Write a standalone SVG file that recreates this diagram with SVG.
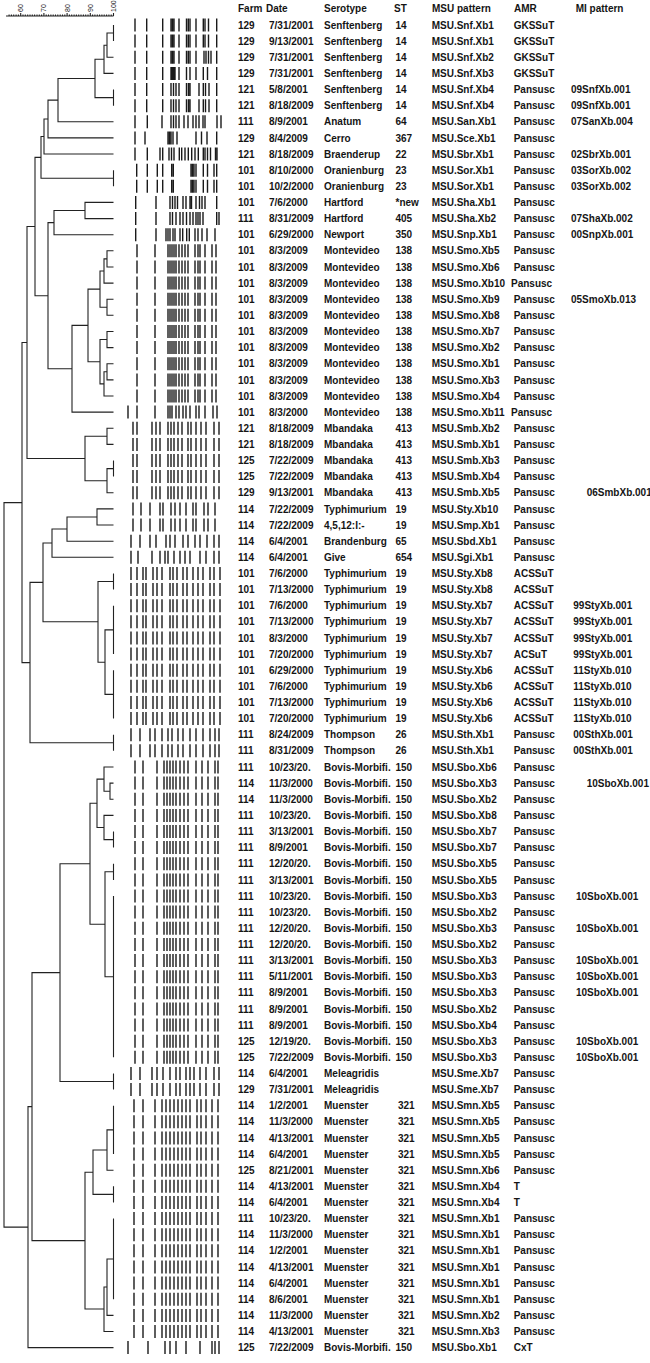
<svg xmlns="http://www.w3.org/2000/svg" xmlns:xlink="http://www.w3.org/1999/xlink" width="650" height="1363" viewBox="0 0 650 1363">
<style>
text{font-family:"Liberation Sans",Arial,sans-serif;font-size:10px;font-weight:bold;fill:#151515}
.sc{font-size:7px;font-weight:normal}
.tree{fill:none;stroke:#222;stroke-width:1.1}
.band{fill:none;stroke:#1a1a1a;stroke-width:1.4}
</style>
<defs>
<path id="g1" class="band" d="M135-6.5v13M146.7-6.5v13M162.7-6.5v13M171-6.5v13M172.5-6.5v13M174-6.5v13M179-6.5v13M186.5-6.5v13M188.3-6.5v13M190-6.5v13M196-6.5v13M203.3-6.5v13M205-6.5v13M208.5-6.5v13M216.7-6.5v13"/>
<path id="g3" class="band" d="M135-6.5v13M146.7-6.5v13M162.7-6.5v13M171-6.5v13M172.5-6.5v13M174-6.5v13M179-6.5v13M186.5-6.5v13M188.3-6.5v13M190-6.5v13M196-6.5v13M204-6.5v13M206-6.5v13M208.5-6.5v13M211-6.5v13M216.7-6.5v13"/>
<path id="g4" class="band" d="M135-6.5v13M146.7-6.5v13M162.7-6.5v13M171-6.5v13M172.3-6.5v13M173.6-6.5v13M175-6.5v13M179-6.5v13M186.5-6.5v13M190-6.5v13M196-6.5v13M203.3-6.5v13M207.5-6.5v13M216.7-6.5v13"/>
<path id="g5" class="band" d="M135-6.5v13M146.7-6.5v13M162.7-6.5v13M171-6.5v13M173.5-6.5v13M176-6.5v13M179-6.5v13M186.5-6.5v13M188.5-6.5v13M190-6.5v13M199-6.5v13M203.3-6.5v13M205.5-6.5v13M209-6.5v13M216.7-6.5v13"/>
<path id="g7" class="band" d="M135-6.5v13M147.3-6.5v13M162-6.5v13M171-6.5v13M173.5-6.5v13M176-6.5v13M179-6.5v13M184-6.5v13M188-6.5v13M193-6.5v13M196-6.5v13M199-6.5v13M203-6.5v13M205-6.5v13M217-6.5v13M221-6.5v13"/>
<path id="g8" class="band" d="M135-6.5v13M145-6.5v13M168-6.5v13M169.5-6.5v13M171-6.5v13M173-6.5v13M177-6.5v13M196-6.5v13M201.5-6.5v13M207-6.5v13M216.7-6.5v13"/>
<path id="g9" class="band" d="M135-6.5v13M147.3-6.5v13M160-6.5v13M162.7-6.5v13M169-6.5v13M171.5-6.5v13M174-6.5v13M179.3-6.5v13M181.7-6.5v13M185-6.5v13M188.3-6.5v13M191.7-6.5v13M195-6.5v13M198.3-6.5v13M203.3-6.5v13M205-6.5v13M207.5-6.5v13M210.5-6.5v13M215.5-6.5v13M217-6.5v13"/>
<path id="g10" class="band" d="M136.7-6.5v13M147.3-6.5v13M157.3-6.5v13M162.7-6.5v13M171.7-6.5v13M173.3-6.5v13M191-6.5v13M192.5-6.5v13M194-6.5v13M196-6.5v13M203.3-6.5v13M207.5-6.5v13M214-6.5v13M216.7-6.5v13"/>
<path id="g12" class="band" d="M135.7-6.5v13M156-6.5v13M170-6.5v13M172.5-6.5v13M175-6.5v13M177.5-6.5v13M183-6.5v13M186-6.5v13M190-6.5v13M191.5-6.5v13M196-6.5v13M199.5-6.5v13M202-6.5v13M205-6.5v13M216.7-6.5v13"/>
<path id="g13" class="band" d="M135.7-6.5v13M156-6.5v13M170-6.5v13M172.5-6.5v13M176-6.5v13M180-6.5v13M183-6.5v13M186.5-6.5v13M190-6.5v13M193-6.5v13M196-6.5v13M198-6.5v13M200-6.5v13M203-6.5v13M216.7-6.5v13M219-6.5v13"/>
<path id="g14" class="band" d="M135.7-6.5v13M156-6.5v13M166-6.5v13M168-6.5v13M170-6.5v13M173-6.5v13M175-6.5v13M180-6.5v13M182.7-6.5v13M186.7-6.5v13M189.3-6.5v13M195-6.5v13M198-6.5v13M202-6.5v13M207-6.5v13M215-6.5v13"/>
<path id="gmo" class="band" d="M137-6.5v13M155-6.5v13M168-6.5v13M170-6.5v13M172-6.5v13M174-6.5v13M176-6.5v13M179-6.5v13M182-6.5v13M185-6.5v13M188-6.5v13M195-6.5v13M198-6.5v13M200-6.5v13M205-6.5v13M212-6.5v13M216-6.5v13"/>
<path id="g25" class="band" d="M128-6.5v13M137-6.5v13M155-6.5v13M168-6.5v13M170-6.5v13M172-6.5v13M176-6.5v13M179-6.5v13M183-6.5v13M186-6.5v13M190-6.5v13M196-6.5v13M199-6.5v13M205-6.5v13M213-6.5v13M217-6.5v13"/>
<path id="gmb" class="band" d="M133-6.5v13M137-6.5v13M152-6.5v13M156-6.5v13M160-6.5v13M168-6.5v13M171-6.5v13M174-6.5v13M178-6.5v13M182-6.5v13M188-6.5v13M191-6.5v13M196-6.5v13M201-6.5v13M206-6.5v13M214-6.5v13M219-6.5v13"/>
<path id="g31" class="band" d="M133-6.5v13M141-6.5v13M150-6.5v13M160-6.5v13M163-6.5v13M171-6.5v13M175-6.5v13M180-6.5v13M186-6.5v13M193-6.5v13M196-6.5v13M204-6.5v13M208-6.5v13M215-6.5v13"/>
<path id="g33" class="band" d="M131-6.5v13M140-6.5v13M150-6.5v13M156-6.5v13M166-6.5v13M170-6.5v13M175-6.5v13M183-6.5v13M188-6.5v13M195-6.5v13M200-6.5v13M207-6.5v13M214-6.5v13M219-6.5v13"/>
<path id="g34" class="band" d="M131-6.5v13M138-6.5v13M152-6.5v13M160-6.5v13M165-6.5v13M168-6.5v13M174-6.5v13M180-6.5v13M185-6.5v13M190-6.5v13M200-6.5v13M206-6.5v13M214-6.5v13M219-6.5v13"/>
<path id="gty" class="band" d="M131-6.5v13M137-6.5v13M143-6.5v13M146-6.5v13M153-6.5v13M157-6.5v13M162-6.5v13M170-6.5v13M173-6.5v13M177-6.5v13M183-6.5v13M187-6.5v13M193-6.5v13M198-6.5v13M203-6.5v13M210-6.5v13M214-6.5v13M220-6.5v13"/>
<path id="gth" class="band" d="M131-6.5v13M140-6.5v13M150-6.5v13M155-6.5v13M162-6.5v13M168-6.5v13M172-6.5v13M178-6.5v13M183-6.5v13M190-6.5v13M196-6.5v13M203-6.5v13M210-6.5v13M215-6.5v13M219-6.5v13"/>
<path id="gbo" class="band" d="M135-6.5v13M143-6.5v13M157-6.5v13M164-6.5v13M167-6.5v13M170-6.5v13M173-6.5v13M176-6.5v13M180-6.5v13M184-6.5v13M188-6.5v13M196-6.5v13M202-6.5v13M208-6.5v13M215-6.5v13M218-6.5v13"/>
<path id="gme" class="band" d="M131-6.5v13M140-6.5v13M152-6.5v13M157-6.5v13M163-6.5v13M170-6.5v13M176-6.5v13M180-6.5v13M186-6.5v13M190-6.5v13M194-6.5v13M200-6.5v13M206-6.5v13M214-6.5v13M219-6.5v13"/>
<path id="gmu" class="band" d="M134-6.5v13M143-6.5v13M155-6.5v13M162-6.5v13M166-6.5v13M170-6.5v13M174-6.5v13M178-6.5v13M182-6.5v13M186-6.5v13M190-6.5v13M197-6.5v13M201-6.5v13M206-6.5v13M212-6.5v13M218-6.5v13"/>
<path id="g83" class="band" d="M128-6.5v13M148-6.5v13M165-6.5v13M170-6.5v13M176-6.5v13M186-6.5v13M200-6.5v13M212-6.5v13M215-6.5v13M219-6.5v13"/>
</defs>
<rect width="650" height="1363" fill="#fff"/>
<g id="scale">
<path class="tree" d="M6 16H113.5M20.7 16v-3M43.9 16v-3M67.1 16v-3M90.3 16v-3M113.5 16v-3M9.1 16v-1.5M11.4 16v-1.5M13.7 16v-1.5M16.1 16v-1.5M18.4 16v-1.5M23 16v-1.5M25.3 16v-1.5M27.7 16v-1.5M30 16v-1.5M32.3 16v-1.5M34.6 16v-1.5M37 16v-1.5M39.3 16v-1.5M41.6 16v-1.5M46.2 16v-1.5M48.5 16v-1.5M50.9 16v-1.5M53.2 16v-1.5M55.5 16v-1.5M57.8 16v-1.5M60.2 16v-1.5M62.5 16v-1.5M64.8 16v-1.5M69.4 16v-1.5M71.7 16v-1.5M74.1 16v-1.5M76.4 16v-1.5M78.7 16v-1.5M81 16v-1.5M83.4 16v-1.5M85.7 16v-1.5M88 16v-1.5M92.6 16v-1.5M94.9 16v-1.5M97.3 16v-1.5M99.6 16v-1.5M101.9 16v-1.5M104.2 16v-1.5M106.6 16v-1.5M108.9 16v-1.5M111.2 16v-1.5"/>
<text class="sc" transform="translate(23.2,12) rotate(-90)">60</text>
<text class="sc" transform="translate(46.4,12) rotate(-90)">70</text>
<text class="sc" transform="translate(69.6,12) rotate(-90)">80</text>
<text class="sc" transform="translate(92.8,12) rotate(-90)">90</text>
<text class="sc" transform="translate(116,12) rotate(-90)">100</text>
</g>
<g id="connectors" class="tree">
<path d="M113.5 25V41.1M113.5 33.05H107V57.3H113.5M107 45.2H104V73.4H113.5M113.5 89.5V105.7M104 59.3H95V97.6H113.5M95 78.5H58V121.8H113.5M58 100.1H48V137.9H113.5M48 119H44V154H113.5M113.5 170.2V186.3M44 136.5H41V178.2H113.5"/>
<path d="M113.5 202.4H85V218.6H113.5M85 210.5H54V234.7H113.5M113.5 250.8H107V267H113.5M107 258.9H104V283.1H113.5M113.5 299.2H107V315.3H113.5M104 271H100V307.3H107M113.5 331.5H107V347.6H113.5M113.5 363.7H107V379.9H113.5M107 371.8H104V396H113.5M107 339.5H100V383.9H104M100 289.1H88V361.7H100M88 325.4H72V412.1H113.5M54 222.6H48V368.8H72M41 157.4H35V295.7H48"/>
<path d="M113.5 428.3H107V444.4H113.5M113.5 460.5V476.6M113.5 468.6H107V492.8H113.5M107 436.3H85V480.7H107M35 226.5H27V458.5H85"/>
<path d="M113.5 508.9H97V525H113.5M97 517H67V541.2H113.5M67 529H52V557.3H113.5M113.5 573.4V589.6M113.5 605.7V654.1M113.5 670.2V718.6M113.5 629.9H105V694.4H113.5M113.5 581.5H98V662.2H105M52 543H43V621.8H98M113.5 734.7V750.8M43 582.4H30V742.8H113.5M27 342.5H22V662.6H30"/>
<path d="M113.5 783.1H110V799.2H113.5M113.5 767H104V791.2H110M113.5 831.5V847.6M113.5 815.4H104V839.6H113.5M104 779.1H97V827.5H104M113.5 863.7V879.9M113.5 896V1057.3M113.5 871.8H105V976.7H113.5M97 803.3H90V924.2H105M113.5 1073.4V1089.6M90 863.8H60V1081.5H113.5"/>
<path d="M113.5 1105.7V1154.1M113.5 1129.9H107V1170.2H113.5M113.5 1186.3V1202.5M107 1150H93V1194.4H113.5M113.5 1218.6V1299.2M113.5 1259H107V1315.4H113.5M107 1287H104V1331.5H113.5M93 1172.2H85V1309H104M60 972.6H32V1240.6H85M32 1106.6H28V1347.6H113.5M22 502.6H4V1227.1H28"/>
</g>
<g id="header"><text y="12"><tspan x="238">Farm</tspan><tspan x="266">Date</tspan><tspan x="324">Serotype</tspan><tspan x="394">ST</tspan><tspan x="432">MSU pattern</tspan><tspan x="514">AMR</tspan><tspan x="575.7">MI pattern</tspan></text></g>
<g id="row-1"><use href="#g1" y="25"/><text y="28.6"><tspan x="238">129</tspan><tspan x="269">7/31/2001</tspan><tspan x="324">Senftenberg</tspan><tspan x="395.5">14</tspan><tspan x="431.7">MSU.Snf.Xb1</tspan><tspan x="513.7">GKSSuT</tspan></text></g>
<g id="row-2"><use href="#g1" y="41.1"/><text y="44.7"><tspan x="238">129</tspan><tspan x="269">9/13/2001</tspan><tspan x="324">Senftenberg</tspan><tspan x="395.5">14</tspan><tspan x="431.7">MSU.Snf.Xb1</tspan><tspan x="513.7">GKSSuT</tspan></text></g>
<g id="row-3"><use href="#g3" y="57.3"/><text y="60.9"><tspan x="238">129</tspan><tspan x="269">7/31/2001</tspan><tspan x="324">Senftenberg</tspan><tspan x="395.5">14</tspan><tspan x="431.7">MSU.Snf.Xb2</tspan><tspan x="513.7">GKSSuT</tspan></text></g>
<g id="row-4"><use href="#g4" y="73.4"/><text y="77"><tspan x="238">129</tspan><tspan x="269">7/31/2001</tspan><tspan x="324">Senftenberg</tspan><tspan x="395.5">14</tspan><tspan x="431.7">MSU.Snf.Xb3</tspan><tspan x="513.7">GKSSuT</tspan></text></g>
<g id="row-5"><use href="#g5" y="89.5"/><text y="93.1"><tspan x="238">121</tspan><tspan x="269">5/8/2001</tspan><tspan x="324">Senftenberg</tspan><tspan x="395.5">14</tspan><tspan x="431.7">MSU.Snf.Xb4</tspan><tspan x="513.7">Pansusc</tspan><tspan x="571">09SnfXb.001</tspan></text></g>
<g id="row-6"><use href="#g5" y="105.7"/><text y="109.3"><tspan x="238">121</tspan><tspan x="269">8/18/2009</tspan><tspan x="324">Senftenberg</tspan><tspan x="395.5">14</tspan><tspan x="431.7">MSU.Snf.Xb4</tspan><tspan x="513.7">Pansusc</tspan><tspan x="571">09SnfXb.001</tspan></text></g>
<g id="row-7"><use href="#g7" y="121.8"/><text y="125.4"><tspan x="238">111</tspan><tspan x="269">8/9/2001</tspan><tspan x="324">Anatum</tspan><tspan x="395.5">64</tspan><tspan x="431.7">MSU.San.Xb1</tspan><tspan x="513.7">Pansusc</tspan><tspan x="571">07SanXb.004</tspan></text></g>
<g id="row-8"><use href="#g8" y="137.9"/><text y="141.5"><tspan x="238">129</tspan><tspan x="269">8/4/2009</tspan><tspan x="324">Cerro</tspan><tspan x="395.5">367</tspan><tspan x="431.7">MSU.Sce.Xb1</tspan><tspan x="513.7">Pansusc</tspan></text></g>
<g id="row-9"><use href="#g9" y="154"/><text y="157.6"><tspan x="238">121</tspan><tspan x="269">8/18/2009</tspan><tspan x="324">Braenderup</tspan><tspan x="395.5">22</tspan><tspan x="431.7">MSU.Sbr.Xb1</tspan><tspan x="513.7">Pansusc</tspan><tspan x="571">02SbrXb.001</tspan></text></g>
<g id="row-10"><use href="#g10" y="170.2"/><text y="173.8"><tspan x="238">101</tspan><tspan x="269">8/10/2000</tspan><tspan x="324">Oranienburg</tspan><tspan x="395.5">23</tspan><tspan x="431.7">MSU.Sor.Xb1</tspan><tspan x="513.7">Pansusc</tspan><tspan x="571">03SorXb.002</tspan></text></g>
<g id="row-11"><use href="#g10" y="186.3"/><text y="189.9"><tspan x="238">101</tspan><tspan x="269">10/2/2000</tspan><tspan x="324">Oranienburg</tspan><tspan x="395.5">23</tspan><tspan x="431.7">MSU.Sor.Xb1</tspan><tspan x="513.7">Pansusc</tspan><tspan x="571">03SorXb.002</tspan></text></g>
<g id="row-12"><use href="#g12" y="202.4"/><text y="206"><tspan x="238">101</tspan><tspan x="269">7/6/2000</tspan><tspan x="324">Hartford</tspan><tspan x="395.5">*new</tspan><tspan x="431.7">MSU.Sha.Xb1</tspan><tspan x="513.7">Pansusc</tspan></text></g>
<g id="row-13"><use href="#g13" y="218.6"/><text y="222.2"><tspan x="238">111</tspan><tspan x="269">8/31/2009</tspan><tspan x="324">Hartford</tspan><tspan x="395.5">405</tspan><tspan x="431.7">MSU.Sha.Xb2</tspan><tspan x="513.7">Pansusc</tspan><tspan x="571">07ShaXb.002</tspan></text></g>
<g id="row-14"><use href="#g14" y="234.7"/><text y="238.3"><tspan x="238">101</tspan><tspan x="269">6/29/2000</tspan><tspan x="324">Newport</tspan><tspan x="395.5">350</tspan><tspan x="431.7">MSU.Snp.Xb1</tspan><tspan x="513.7">Pansusc</tspan><tspan x="571">00SnpXb.001</tspan></text></g>
<g id="row-15"><use href="#gmo" y="250.8"/><text y="254.4"><tspan x="238">101</tspan><tspan x="269">8/3/2009</tspan><tspan x="324">Montevideo</tspan><tspan x="395.5">138</tspan><tspan x="431.7">MSU.Smo.Xb5</tspan><tspan x="513.7">Pansusc</tspan></text></g>
<g id="row-16"><use href="#gmo" y="267"/><text y="270.6"><tspan x="238">101</tspan><tspan x="269">8/3/2009</tspan><tspan x="324">Montevideo</tspan><tspan x="395.5">138</tspan><tspan x="431.7">MSU.Smo.Xb6</tspan><tspan x="513.7">Pansusc</tspan></text></g>
<g id="row-17"><use href="#gmo" y="283.1"/><text y="286.7"><tspan x="238">101</tspan><tspan x="269">8/3/2009</tspan><tspan x="324">Montevideo</tspan><tspan x="395.5">138</tspan><tspan x="431.7">MSU.Smo.Xb10</tspan><tspan x="511">Pansusc</tspan></text></g>
<g id="row-18"><use href="#gmo" y="299.2"/><text y="302.8"><tspan x="238">101</tspan><tspan x="269">8/3/2009</tspan><tspan x="324">Montevideo</tspan><tspan x="395.5">138</tspan><tspan x="431.7">MSU.Smo.Xb9</tspan><tspan x="513.7">Pansusc</tspan><tspan x="571">05SmoXb.013</tspan></text></g>
<g id="row-19"><use href="#gmo" y="315.3"/><text y="318.9"><tspan x="238">101</tspan><tspan x="269">8/3/2009</tspan><tspan x="324">Montevideo</tspan><tspan x="395.5">138</tspan><tspan x="431.7">MSU.Smo.Xb8</tspan><tspan x="513.7">Pansusc</tspan></text></g>
<g id="row-20"><use href="#gmo" y="331.5"/><text y="335.1"><tspan x="238">101</tspan><tspan x="269">8/3/2009</tspan><tspan x="324">Montevideo</tspan><tspan x="395.5">138</tspan><tspan x="431.7">MSU.Smo.Xb7</tspan><tspan x="513.7">Pansusc</tspan></text></g>
<g id="row-21"><use href="#gmo" y="347.6"/><text y="351.2"><tspan x="238">101</tspan><tspan x="269">8/3/2009</tspan><tspan x="324">Montevideo</tspan><tspan x="395.5">138</tspan><tspan x="431.7">MSU.Smo.Xb2</tspan><tspan x="513.7">Pansusc</tspan></text></g>
<g id="row-22"><use href="#gmo" y="363.7"/><text y="367.3"><tspan x="238">101</tspan><tspan x="269">8/3/2009</tspan><tspan x="324">Montevideo</tspan><tspan x="395.5">138</tspan><tspan x="431.7">MSU.Smo.Xb1</tspan><tspan x="513.7">Pansusc</tspan></text></g>
<g id="row-23"><use href="#gmo" y="379.9"/><text y="383.5"><tspan x="238">101</tspan><tspan x="269">8/3/2009</tspan><tspan x="324">Montevideo</tspan><tspan x="395.5">138</tspan><tspan x="431.7">MSU.Smo.Xb3</tspan><tspan x="513.7">Pansusc</tspan></text></g>
<g id="row-24"><use href="#gmo" y="396"/><text y="399.6"><tspan x="238">101</tspan><tspan x="269">8/3/2009</tspan><tspan x="324">Montevideo</tspan><tspan x="395.5">138</tspan><tspan x="431.7">MSU.Smo.Xb4</tspan><tspan x="513.7">Pansusc</tspan></text></g>
<g id="row-25"><use href="#g25" y="412.1"/><text y="415.7"><tspan x="238">101</tspan><tspan x="269">8/3/2000</tspan><tspan x="324">Montevideo</tspan><tspan x="395.5">138</tspan><tspan x="431.7">MSU.Smo.Xb11</tspan><tspan x="511">Pansusc</tspan></text></g>
<g id="row-26"><use href="#gmb" y="428.3"/><text y="431.9"><tspan x="238">121</tspan><tspan x="269">8/18/2009</tspan><tspan x="324">Mbandaka</tspan><tspan x="395.5">413</tspan><tspan x="431.7">MSU.Smb.Xb2</tspan><tspan x="513.7">Pansusc</tspan></text></g>
<g id="row-27"><use href="#gmb" y="444.4"/><text y="448"><tspan x="238">121</tspan><tspan x="269">8/18/2009</tspan><tspan x="324">Mbandaka</tspan><tspan x="395.5">413</tspan><tspan x="431.7">MSU.Smb.Xb1</tspan><tspan x="513.7">Pansusc</tspan></text></g>
<g id="row-28"><use href="#gmb" y="460.5"/><text y="464.1"><tspan x="238">125</tspan><tspan x="269">7/22/2009</tspan><tspan x="324">Mbandaka</tspan><tspan x="395.5">413</tspan><tspan x="431.7">MSU.Smb.Xb3</tspan><tspan x="513.7">Pansusc</tspan></text></g>
<g id="row-29"><use href="#gmb" y="476.6"/><text y="480.2"><tspan x="238">125</tspan><tspan x="269">7/22/2009</tspan><tspan x="324">Mbandaka</tspan><tspan x="395.5">413</tspan><tspan x="431.7">MSU.Smb.Xb4</tspan><tspan x="513.7">Pansusc</tspan></text></g>
<g id="row-30"><use href="#gmb" y="492.8"/><text y="496.4"><tspan x="238">129</tspan><tspan x="269">9/13/2001</tspan><tspan x="324">Mbandaka</tspan><tspan x="395.5">413</tspan><tspan x="431.7">MSU.Smb.Xb5</tspan><tspan x="513.7">Pansusc</tspan><tspan x="586.7">06SmbXb.001</tspan></text></g>
<g id="row-31"><use href="#g31" y="508.9"/><text y="512.5"><tspan x="238">114</tspan><tspan x="269">7/22/2009</tspan><tspan x="324">Typhimurium</tspan><tspan x="395.5">19</tspan><tspan x="431.7">MSU.Sty.Xb10</tspan><tspan x="513.7">Pansusc</tspan></text></g>
<g id="row-32"><use href="#g31" y="525"/><text y="528.6"><tspan x="238">114</tspan><tspan x="269">7/22/2009</tspan><tspan x="324">4,5,12:I:-</tspan><tspan x="395.5">19</tspan><tspan x="431.7">MSU.Smp.Xb1</tspan><tspan x="513.7">Pansusc</tspan></text></g>
<g id="row-33"><use href="#g33" y="541.2"/><text y="544.8"><tspan x="238">114</tspan><tspan x="269">6/4/2001</tspan><tspan x="324">Brandenburg</tspan><tspan x="395.5">65</tspan><tspan x="431.7">MSU.Sbd.Xb1</tspan><tspan x="513.7">Pansusc</tspan></text></g>
<g id="row-34"><use href="#g34" y="557.3"/><text y="560.9"><tspan x="238">114</tspan><tspan x="269">6/4/2001</tspan><tspan x="324">Give</tspan><tspan x="395.5">654</tspan><tspan x="431.7">MSU.Sgi.Xb1</tspan><tspan x="513.7">Pansusc</tspan></text></g>
<g id="row-35"><use href="#gty" y="573.4"/><text y="577"><tspan x="238">101</tspan><tspan x="269">7/6/2000</tspan><tspan x="324">Typhimurium</tspan><tspan x="395.5">19</tspan><tspan x="431.7">MSU.Sty.Xb8</tspan><tspan x="513.7">ACSSuT</tspan></text></g>
<g id="row-36"><use href="#gty" y="589.6"/><text y="593.2"><tspan x="238">101</tspan><tspan x="269">7/13/2000</tspan><tspan x="324">Typhimurium</tspan><tspan x="395.5">19</tspan><tspan x="431.7">MSU.Sty.Xb8</tspan><tspan x="513.7">ACSSuT</tspan></text></g>
<g id="row-37"><use href="#gty" y="605.7"/><text y="609.3"><tspan x="238">101</tspan><tspan x="269">7/6/2000</tspan><tspan x="324">Typhimurium</tspan><tspan x="395.5">19</tspan><tspan x="431.7">MSU.Sty.Xb7</tspan><tspan x="513.7">ACSSuT</tspan><tspan x="573.3">99StyXb.001</tspan></text></g>
<g id="row-38"><use href="#gty" y="621.8"/><text y="625.4"><tspan x="238">101</tspan><tspan x="269">7/13/2000</tspan><tspan x="324">Typhimurium</tspan><tspan x="395.5">19</tspan><tspan x="431.7">MSU.Sty.Xb7</tspan><tspan x="513.7">ACSSuT</tspan><tspan x="573.3">99StyXb.001</tspan></text></g>
<g id="row-39"><use href="#gty" y="637.9"/><text y="641.5"><tspan x="238">101</tspan><tspan x="269">8/3/2000</tspan><tspan x="324">Typhimurium</tspan><tspan x="395.5">19</tspan><tspan x="431.7">MSU.Sty.Xb7</tspan><tspan x="513.7">ACSSuT</tspan><tspan x="573.3">99StyXb.001</tspan></text></g>
<g id="row-40"><use href="#gty" y="654.1"/><text y="657.7"><tspan x="238">101</tspan><tspan x="269">7/20/2000</tspan><tspan x="324">Typhimurium</tspan><tspan x="395.5">19</tspan><tspan x="431.7">MSU.Sty.Xb7</tspan><tspan x="513.7">ACSuT</tspan><tspan x="573.3">99StyXb.001</tspan></text></g>
<g id="row-41"><use href="#gty" y="670.2"/><text y="673.8"><tspan x="238">101</tspan><tspan x="269">6/29/2000</tspan><tspan x="324">Typhimurium</tspan><tspan x="395.5">19</tspan><tspan x="431.7">MSU.Sty.Xb6</tspan><tspan x="513.7">ACSSuT</tspan><tspan x="573.3">11StyXb.010</tspan></text></g>
<g id="row-42"><use href="#gty" y="686.3"/><text y="689.9"><tspan x="238">101</tspan><tspan x="269">7/6/2000</tspan><tspan x="324">Typhimurium</tspan><tspan x="395.5">19</tspan><tspan x="431.7">MSU.Sty.Xb6</tspan><tspan x="513.7">ACSSuT</tspan><tspan x="573.3">11StyXb.010</tspan></text></g>
<g id="row-43"><use href="#gty" y="702.5"/><text y="706.1"><tspan x="238">101</tspan><tspan x="269">7/13/2000</tspan><tspan x="324">Typhimurium</tspan><tspan x="395.5">19</tspan><tspan x="431.7">MSU.Sty.Xb6</tspan><tspan x="513.7">ACSSuT</tspan><tspan x="573.3">11StyXb.010</tspan></text></g>
<g id="row-44"><use href="#gty" y="718.6"/><text y="722.2"><tspan x="238">101</tspan><tspan x="269">7/20/2000</tspan><tspan x="324">Typhimurium</tspan><tspan x="395.5">19</tspan><tspan x="431.7">MSU.Sty.Xb6</tspan><tspan x="513.7">ACSSuT</tspan><tspan x="573.3">11StyXb.010</tspan></text></g>
<g id="row-45"><use href="#gth" y="734.7"/><text y="738.3"><tspan x="238">111</tspan><tspan x="269">8/24/2009</tspan><tspan x="324">Thompson</tspan><tspan x="395.5">26</tspan><tspan x="431.7">MSU.Sth.Xb1</tspan><tspan x="513.7">Pansusc</tspan><tspan x="573.3">00SthXb.001</tspan></text></g>
<g id="row-46"><use href="#gth" y="750.8"/><text y="754.4"><tspan x="238">111</tspan><tspan x="269">8/31/2009</tspan><tspan x="324">Thompson</tspan><tspan x="395.5">26</tspan><tspan x="431.7">MSU.Sth.Xb1</tspan><tspan x="513.7">Pansusc</tspan><tspan x="573.3">00SthXb.001</tspan></text></g>
<g id="row-47"><use href="#gbo" y="767"/><text y="770.6"><tspan x="238">111</tspan><tspan x="269">10/23/20.</tspan><tspan x="324">Bovis-Morbifi.</tspan><tspan x="395.5">150</tspan><tspan x="431.7">MSU.Sbo.Xb6</tspan><tspan x="513.7">Pansusc</tspan></text></g>
<g id="row-48"><use href="#gbo" y="783.1"/><text y="786.7"><tspan x="238">114</tspan><tspan x="269">11/3/2000</tspan><tspan x="324">Bovis-Morbifi.</tspan><tspan x="395.5">150</tspan><tspan x="431.7">MSU.Sbo.Xb3</tspan><tspan x="513.7">Pansusc</tspan><tspan x="586.7">10SboXb.001</tspan></text></g>
<g id="row-49"><use href="#gbo" y="799.2"/><text y="802.8"><tspan x="238">114</tspan><tspan x="269">11/3/2000</tspan><tspan x="324">Bovis-Morbifi.</tspan><tspan x="395.5">150</tspan><tspan x="431.7">MSU.Sbo.Xb2</tspan><tspan x="513.7">Pansusc</tspan></text></g>
<g id="row-50"><use href="#gbo" y="815.4"/><text y="819"><tspan x="238">111</tspan><tspan x="269">10/23/20.</tspan><tspan x="324">Bovis-Morbifi.</tspan><tspan x="395.5">150</tspan><tspan x="431.7">MSU.Sbo.Xb8</tspan><tspan x="513.7">Pansusc</tspan></text></g>
<g id="row-51"><use href="#gbo" y="831.5"/><text y="835.1"><tspan x="238">111</tspan><tspan x="269">3/13/2001</tspan><tspan x="324">Bovis-Morbifi.</tspan><tspan x="395.5">150</tspan><tspan x="431.7">MSU.Sbo.Xb7</tspan><tspan x="513.7">Pansusc</tspan></text></g>
<g id="row-52"><use href="#gbo" y="847.6"/><text y="851.2"><tspan x="238">111</tspan><tspan x="269">8/9/2001</tspan><tspan x="324">Bovis-Morbifi.</tspan><tspan x="395.5">150</tspan><tspan x="431.7">MSU.Sbo.Xb7</tspan><tspan x="513.7">Pansusc</tspan></text></g>
<g id="row-53"><use href="#gbo" y="863.7"/><text y="867.3"><tspan x="238">111</tspan><tspan x="269">12/20/20.</tspan><tspan x="324">Bovis-Morbifi.</tspan><tspan x="395.5">150</tspan><tspan x="431.7">MSU.Sbo.Xb5</tspan><tspan x="513.7">Pansusc</tspan></text></g>
<g id="row-54"><use href="#gbo" y="879.9"/><text y="883.5"><tspan x="238">111</tspan><tspan x="269">3/13/2001</tspan><tspan x="324">Bovis-Morbifi.</tspan><tspan x="395.5">150</tspan><tspan x="431.7">MSU.Sbo.Xb5</tspan><tspan x="513.7">Pansusc</tspan></text></g>
<g id="row-55"><use href="#gbo" y="896"/><text y="899.6"><tspan x="238">111</tspan><tspan x="269">10/23/20.</tspan><tspan x="324">Bovis-Morbifi.</tspan><tspan x="395.5">150</tspan><tspan x="431.7">MSU.Sbo.Xb3</tspan><tspan x="513.7">Pansusc</tspan><tspan x="576">10SboXb.001</tspan></text></g>
<g id="row-56"><use href="#gbo" y="912.1"/><text y="915.7"><tspan x="238">111</tspan><tspan x="269">10/23/20.</tspan><tspan x="324">Bovis-Morbifi.</tspan><tspan x="395.5">150</tspan><tspan x="431.7">MSU.Sbo.Xb2</tspan><tspan x="513.7">Pansusc</tspan></text></g>
<g id="row-57"><use href="#gbo" y="928.3"/><text y="931.9"><tspan x="238">111</tspan><tspan x="269">12/20/20.</tspan><tspan x="324">Bovis-Morbifi.</tspan><tspan x="395.5">150</tspan><tspan x="431.7">MSU.Sbo.Xb3</tspan><tspan x="513.7">Pansusc</tspan><tspan x="576">10SboXb.001</tspan></text></g>
<g id="row-58"><use href="#gbo" y="944.4"/><text y="948"><tspan x="238">111</tspan><tspan x="269">12/20/20.</tspan><tspan x="324">Bovis-Morbifi.</tspan><tspan x="395.5">150</tspan><tspan x="431.7">MSU.Sbo.Xb2</tspan><tspan x="513.7">Pansusc</tspan></text></g>
<g id="row-59"><use href="#gbo" y="960.5"/><text y="964.1"><tspan x="238">111</tspan><tspan x="269">3/13/2001</tspan><tspan x="324">Bovis-Morbifi.</tspan><tspan x="395.5">150</tspan><tspan x="431.7">MSU.Sbo.Xb3</tspan><tspan x="513.7">Pansusc</tspan><tspan x="576">10SboXb.001</tspan></text></g>
<g id="row-60"><use href="#gbo" y="976.7"/><text y="980.3"><tspan x="238">111</tspan><tspan x="269">5/11/2001</tspan><tspan x="324">Bovis-Morbifi.</tspan><tspan x="395.5">150</tspan><tspan x="431.7">MSU.Sbo.Xb3</tspan><tspan x="513.7">Pansusc</tspan><tspan x="576">10SboXb.001</tspan></text></g>
<g id="row-61"><use href="#gbo" y="992.8"/><text y="996.4"><tspan x="238">111</tspan><tspan x="269">8/9/2001</tspan><tspan x="324">Bovis-Morbifi.</tspan><tspan x="395.5">150</tspan><tspan x="431.7">MSU.Sbo.Xb3</tspan><tspan x="513.7">Pansusc</tspan><tspan x="576">10SboXb.001</tspan></text></g>
<g id="row-62"><use href="#gbo" y="1008.9"/><text y="1012.5"><tspan x="238">111</tspan><tspan x="269">8/9/2001</tspan><tspan x="324">Bovis-Morbifi.</tspan><tspan x="395.5">150</tspan><tspan x="431.7">MSU.Sbo.Xb2</tspan><tspan x="513.7">Pansusc</tspan></text></g>
<g id="row-63"><use href="#gbo" y="1025"/><text y="1028.6"><tspan x="238">111</tspan><tspan x="269">8/9/2001</tspan><tspan x="324">Bovis-Morbifi.</tspan><tspan x="395.5">150</tspan><tspan x="431.7">MSU.Sbo.Xb4</tspan><tspan x="513.7">Pansusc</tspan></text></g>
<g id="row-64"><use href="#gbo" y="1041.2"/><text y="1044.8"><tspan x="238">125</tspan><tspan x="269">12/19/20.</tspan><tspan x="324">Bovis-Morbifi.</tspan><tspan x="395.5">150</tspan><tspan x="431.7">MSU.Sbo.Xb3</tspan><tspan x="513.7">Pansusc</tspan><tspan x="576">10SboXb.001</tspan></text></g>
<g id="row-65"><use href="#gbo" y="1057.3"/><text y="1060.9"><tspan x="238">125</tspan><tspan x="269">7/22/2009</tspan><tspan x="324">Bovis-Morbifi.</tspan><tspan x="395.5">150</tspan><tspan x="431.7">MSU.Sbo.Xb3</tspan><tspan x="513.7">Pansusc</tspan><tspan x="576">10SboXb.001</tspan></text></g>
<g id="row-66"><use href="#gme" y="1073.4"/><text y="1077"><tspan x="238">114</tspan><tspan x="269">6/4/2001</tspan><tspan x="324">Meleagridis</tspan><tspan x="431.7">MSU.Sme.Xb7</tspan><tspan x="513.7">Pansusc</tspan></text></g>
<g id="row-67"><use href="#gme" y="1089.6"/><text y="1093.2"><tspan x="238">129</tspan><tspan x="269">7/31/2001</tspan><tspan x="324">Meleagridis</tspan><tspan x="431.7">MSU.Sme.Xb7</tspan><tspan x="513.7">Pansusc</tspan></text></g>
<g id="row-68"><use href="#gmu" y="1105.7"/><text y="1109.3"><tspan x="238">114</tspan><tspan x="269">1/2/2001</tspan><tspan x="324">Muenster</tspan><tspan x="398">321</tspan><tspan x="431.7">MSU.Smn.Xb5</tspan><tspan x="513.7">Pansusc</tspan></text></g>
<g id="row-69"><use href="#gmu" y="1121.8"/><text y="1125.4"><tspan x="238">114</tspan><tspan x="269">11/3/2000</tspan><tspan x="324">Muenster</tspan><tspan x="398">321</tspan><tspan x="431.7">MSU.Smn.Xb5</tspan><tspan x="513.7">Pansusc</tspan></text></g>
<g id="row-70"><use href="#gmu" y="1137.9"/><text y="1141.5"><tspan x="238">114</tspan><tspan x="269">4/13/2001</tspan><tspan x="324">Muenster</tspan><tspan x="398">321</tspan><tspan x="431.7">MSU.Smn.Xb5</tspan><tspan x="513.7">Pansusc</tspan></text></g>
<g id="row-71"><use href="#gmu" y="1154.1"/><text y="1157.7"><tspan x="238">114</tspan><tspan x="269">6/4/2001</tspan><tspan x="324">Muenster</tspan><tspan x="398">321</tspan><tspan x="431.7">MSU.Smn.Xb5</tspan><tspan x="513.7">Pansusc</tspan></text></g>
<g id="row-72"><use href="#gmu" y="1170.2"/><text y="1173.8"><tspan x="238">125</tspan><tspan x="269">8/21/2001</tspan><tspan x="324">Muenster</tspan><tspan x="398">321</tspan><tspan x="431.7">MSU.Smn.Xb6</tspan><tspan x="513.7">Pansusc</tspan></text></g>
<g id="row-73"><use href="#gmu" y="1186.3"/><text y="1189.9"><tspan x="238">114</tspan><tspan x="269">4/13/2001</tspan><tspan x="324">Muenster</tspan><tspan x="398">321</tspan><tspan x="431.7">MSU.Smn.Xb4</tspan><tspan x="513.7">T</tspan></text></g>
<g id="row-74"><use href="#gmu" y="1202.5"/><text y="1206.1"><tspan x="238">114</tspan><tspan x="269">6/4/2001</tspan><tspan x="324">Muenster</tspan><tspan x="398">321</tspan><tspan x="431.7">MSU.Smn.Xb4</tspan><tspan x="513.7">T</tspan></text></g>
<g id="row-75"><use href="#gmu" y="1218.6"/><text y="1222.2"><tspan x="238">111</tspan><tspan x="269">10/23/20.</tspan><tspan x="324">Muenster</tspan><tspan x="398">321</tspan><tspan x="431.7">MSU.Smn.Xb1</tspan><tspan x="513.7">Pansusc</tspan></text></g>
<g id="row-76"><use href="#gmu" y="1234.7"/><text y="1238.3"><tspan x="238">114</tspan><tspan x="269">11/3/2000</tspan><tspan x="324">Muenster</tspan><tspan x="398">321</tspan><tspan x="431.7">MSU.Smn.Xb1</tspan><tspan x="513.7">Pansusc</tspan></text></g>
<g id="row-77"><use href="#gmu" y="1250.8"/><text y="1254.4"><tspan x="238">114</tspan><tspan x="269">1/2/2001</tspan><tspan x="324">Muenster</tspan><tspan x="398">321</tspan><tspan x="431.7">MSU.Smn.Xb1</tspan><tspan x="513.7">Pansusc</tspan></text></g>
<g id="row-78"><use href="#gmu" y="1267"/><text y="1270.6"><tspan x="238">114</tspan><tspan x="269">4/13/2001</tspan><tspan x="324">Muenster</tspan><tspan x="398">321</tspan><tspan x="431.7">MSU.Smn.Xb1</tspan><tspan x="513.7">Pansusc</tspan></text></g>
<g id="row-79"><use href="#gmu" y="1283.1"/><text y="1286.7"><tspan x="238">114</tspan><tspan x="269">6/4/2001</tspan><tspan x="324">Muenster</tspan><tspan x="398">321</tspan><tspan x="431.7">MSU.Smn.Xb1</tspan><tspan x="513.7">Pansusc</tspan></text></g>
<g id="row-80"><use href="#gmu" y="1299.2"/><text y="1302.8"><tspan x="238">114</tspan><tspan x="269">8/6/2001</tspan><tspan x="324">Muenster</tspan><tspan x="398">321</tspan><tspan x="431.7">MSU.Smn.Xb1</tspan><tspan x="513.7">Pansusc</tspan></text></g>
<g id="row-81"><use href="#gmu" y="1315.4"/><text y="1319"><tspan x="238">114</tspan><tspan x="269">11/3/2000</tspan><tspan x="324">Muenster</tspan><tspan x="398">321</tspan><tspan x="431.7">MSU.Smn.Xb2</tspan><tspan x="513.7">Pansusc</tspan></text></g>
<g id="row-82"><use href="#gmu" y="1331.5"/><text y="1335.1"><tspan x="238">114</tspan><tspan x="269">4/13/2001</tspan><tspan x="324">Muenster</tspan><tspan x="398">321</tspan><tspan x="431.7">MSU.Smn.Xb3</tspan><tspan x="513.7">Pansusc</tspan></text></g>
<g id="row-83"><use href="#g83" y="1347.6"/><text y="1351.2"><tspan x="238">125</tspan><tspan x="269">7/22/2009</tspan><tspan x="324">Bovis-Morbifi.</tspan><tspan x="395.5">150</tspan><tspan x="431.7">MSU.Sbo.Xb1</tspan><tspan x="513.7">CxT</tspan></text></g>
</svg>
